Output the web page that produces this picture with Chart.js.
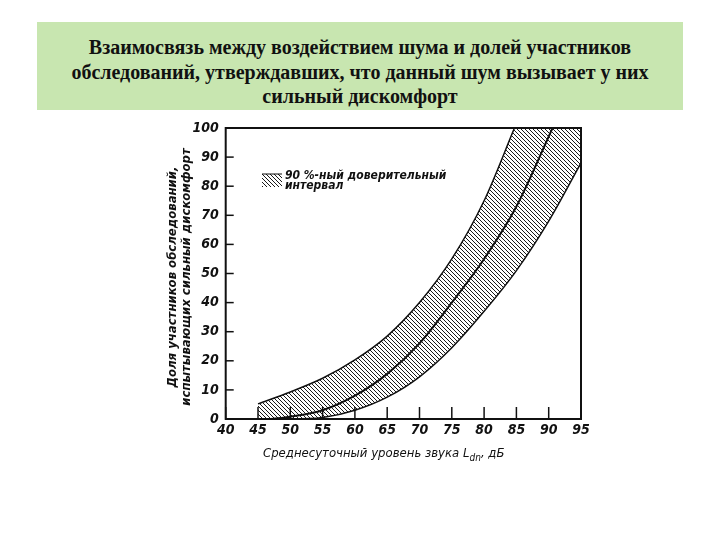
<!DOCTYPE html>
<html>
<head>
<meta charset="utf-8">
<script src="https://cdn.jsdelivr.net/npm/chart.js@4.4.0/dist/chart.umd.min.js"></script>
<style>
  html, body { margin: 0; padding: 0; background: #fff; }
  #wrap { position: relative; width: 720px; height: 540px; }
  #chart { position: absolute; left: 0; top: 0; }
  #title {
    position: absolute; left: 37px; top: 22px; width: 646px; height: 88px;
    background: #c8e6b0; box-sizing: border-box; padding-top: 13px;
    font-family: "Liberation Serif", "Times New Roman", serif; font-weight: bold;
    font-size: 20px; line-height: 24.5px; text-align: center; color: #111;
  }
</style>
</head>
<body>
<div id="wrap">
  <canvas id="chart" width="720" height="540"></canvas>
  <div id="title">Взаимосвязь между воздействием шума и долей участников<br>обследований, утверждавших, что данный шум вызывает у них<br>сильный дискомфорт</div>
</div>
<script>
// data
const upperX = [45, 50, 55, 60, 65, 70, 75, 80, 84.7];
const upperY = [5.2, 9.3, 14, 20.3, 28.5, 40, 55, 75, 100];
const middleX = [47, 50, 55, 60, 65, 70, 75, 80, 85, 90.6];
const middleY = [0, 0.8, 3, 8, 15.5, 26, 40, 55, 73, 100];
const lowerX = [45, 50, 55, 60, 65, 70, 75, 80, 85, 90, 95];
const lowerY = [0, 0, 0.5, 3, 7.5, 14.5, 24.5, 37, 51, 68, 88];
const xTicks = [40, 45, 50, 55, 60, 65, 70, 75, 80, 85, 90, 95];
const yTicks = [0, 10, 20, 30, 40, 50, 60, 70, 80, 90, 100];

const tickFont = "'DejaVu Sans Condensed', 'Liberation Sans Narrow', 'Liberation Sans', sans-serif";

const pts = (xs, ys) => xs.map((x, i) => ({ x: x, y: ys[i] }));

// diagonal hatching for the confidence band
function hatch() {
    const c = document.createElement('canvas');
    c.width = 4; c.height = 4;
    const g = c.getContext('2d');
    g.strokeStyle = '#1a1a1a';
    g.lineWidth = 1;
    g.beginPath();
    g.moveTo(0, 0); g.lineTo(4, 4);
    g.moveTo(-1, 3); g.lineTo(1, 5);
    g.moveTo(3, -1); g.lineTo(5, 1);
    g.stroke();
    return g.createPattern(c, 'repeat');
}
const hatchPattern = hatch();

// frame, inner ticks, axis titles and legend
const decor = {
    id: 'decor',
    afterDraw(chart) {
        const { ctx, chartArea: a, scales: { x, y } } = chart;
        ctx.save();
        ctx.strokeStyle = '#111';
        ctx.lineWidth = 2;
        ctx.strokeRect(a.left, a.top, a.right - a.left, a.bottom - a.top);
        ctx.lineWidth = 1.5;
        xTicks.forEach(v => {
            const px = x.getPixelForValue(v);
            ctx.beginPath(); ctx.moveTo(px, a.bottom); ctx.lineTo(px, a.bottom - 12); ctx.stroke();
        });
        yTicks.forEach(v => {
            const py = y.getPixelForValue(v);
            ctx.beginPath(); ctx.moveTo(a.left, py); ctx.lineTo(a.left + 8, py); ctx.stroke();
        });

        ctx.fillStyle = '#111';
        // y title
        ctx.save();
        ctx.translate(180, 277);
        ctx.rotate(-Math.PI / 2);
        ctx.textAlign = 'center';
        ctx.textBaseline = 'middle';
        ctx.font = 'italic bold 13px ' + tickFont;
        ctx.fillText('Доля участников обследований,', 0, -7);
        ctx.fillText('испытывающих сильный дискомфорт', 0, 7);
        ctx.restore();

        // x title with subscript
        ctx.textBaseline = 'alphabetic';
        ctx.textAlign = 'left';
        ctx.font = 'italic 13px ' + tickFont;
        let tx = 263;
        const ty = 457;
        const part1 = 'Среднесуточный уровень звука L';
        ctx.fillText(part1, tx, ty);
        tx += ctx.measureText(part1).width;
        ctx.font = 'italic 10px ' + tickFont;
        ctx.fillText('dn', tx, ty + 4);
        tx += ctx.measureText('dn').width;
        ctx.font = 'italic 13px ' + tickFont;
        ctx.fillText(', дБ', tx, ty);

        // legend
        ctx.fillStyle = hatchPattern;
        ctx.fillRect(262, 174, 20, 13);
        ctx.lineWidth = 1;
        ctx.beginPath(); ctx.moveTo(262, 174); ctx.lineTo(282, 174); ctx.stroke();
        ctx.fillStyle = '#111';
        ctx.font = 'italic bold 12px ' + tickFont;
        ctx.textBaseline = 'middle';
        ctx.fillText('90 %-ный доверительный', 285, 176);
        ctx.fillText('интервал', 285, 186);
        ctx.restore();
    }
};

const ctx = document.getElementById('chart').getContext('2d');
new Chart(ctx, {
    type: 'scatter',
    data: {
        datasets: [
            {
                // hatched band: everything above the lower bound...
                label: 'lower',
                data: pts(lowerX, lowerY),
                showLine: true,
                borderColor: '#111',
                borderWidth: 1.5,
                pointRadius: 0,
                cubicInterpolationMode: 'monotone',
                backgroundColor: hatchPattern,
                fill: 'end',
                order: 3
            },
            {
                // ...then cleared again above the upper bound
                label: 'upper',
                data: pts(upperX, upperY),
                showLine: true,
                borderColor: '#111',
                borderWidth: 1.5,
                pointRadius: 0,
                cubicInterpolationMode: 'monotone',
                backgroundColor: '#fff',
                fill: 'end',
                order: 2
            },
            {
                label: 'middle',
                data: pts(middleX, middleY),
                showLine: true,
                borderColor: '#111',
                borderWidth: 2,
                pointRadius: 0,
                cubicInterpolationMode: 'monotone',
                fill: false,
                order: 1
            }
        ]
    },
    options: {
        responsive: false,
        animation: false,
        devicePixelRatio: 1,
        layout: {
            padding: { top: 128, right: 139, left: 0, bottom: 0 }
        },
        plugins: {
            legend: { display: false },
            tooltip: { enabled: false }
        },
        scales: {
            x: {
                type: 'linear',
                min: 40,
                max: 95,
                afterBuildTicks: s => { s.ticks = xTicks.map(v => ({ value: v })); },
                afterFit: s => { s.height = 121; },
                grid: { display: false, drawTicks: false },
                border: { display: false },
                ticks: {
                    autoSkip: false,
                    maxRotation: 0,
                    padding: 3,
                    color: '#111',
                    font: { family: tickFont, size: 14, style: 'italic', weight: 'bold' }
                }
            },
            y: {
                min: 0,
                max: 100,
                afterBuildTicks: s => { s.ticks = yTicks.map(v => ({ value: v })); },
                // 225.7 puts the 45 dB edge of the band on a whole pixel
                afterFit: s => { s.width = 225.7; },
                grid: { display: false, drawTicks: false },
                border: { display: false },
                ticks: {
                    padding: 7,
                    color: '#111',
                    font: { family: tickFont, size: 14, style: 'italic', weight: 'bold' }
                }
            }
        }
    },
    plugins: [decor]
});
</script>
</body>
</html>
